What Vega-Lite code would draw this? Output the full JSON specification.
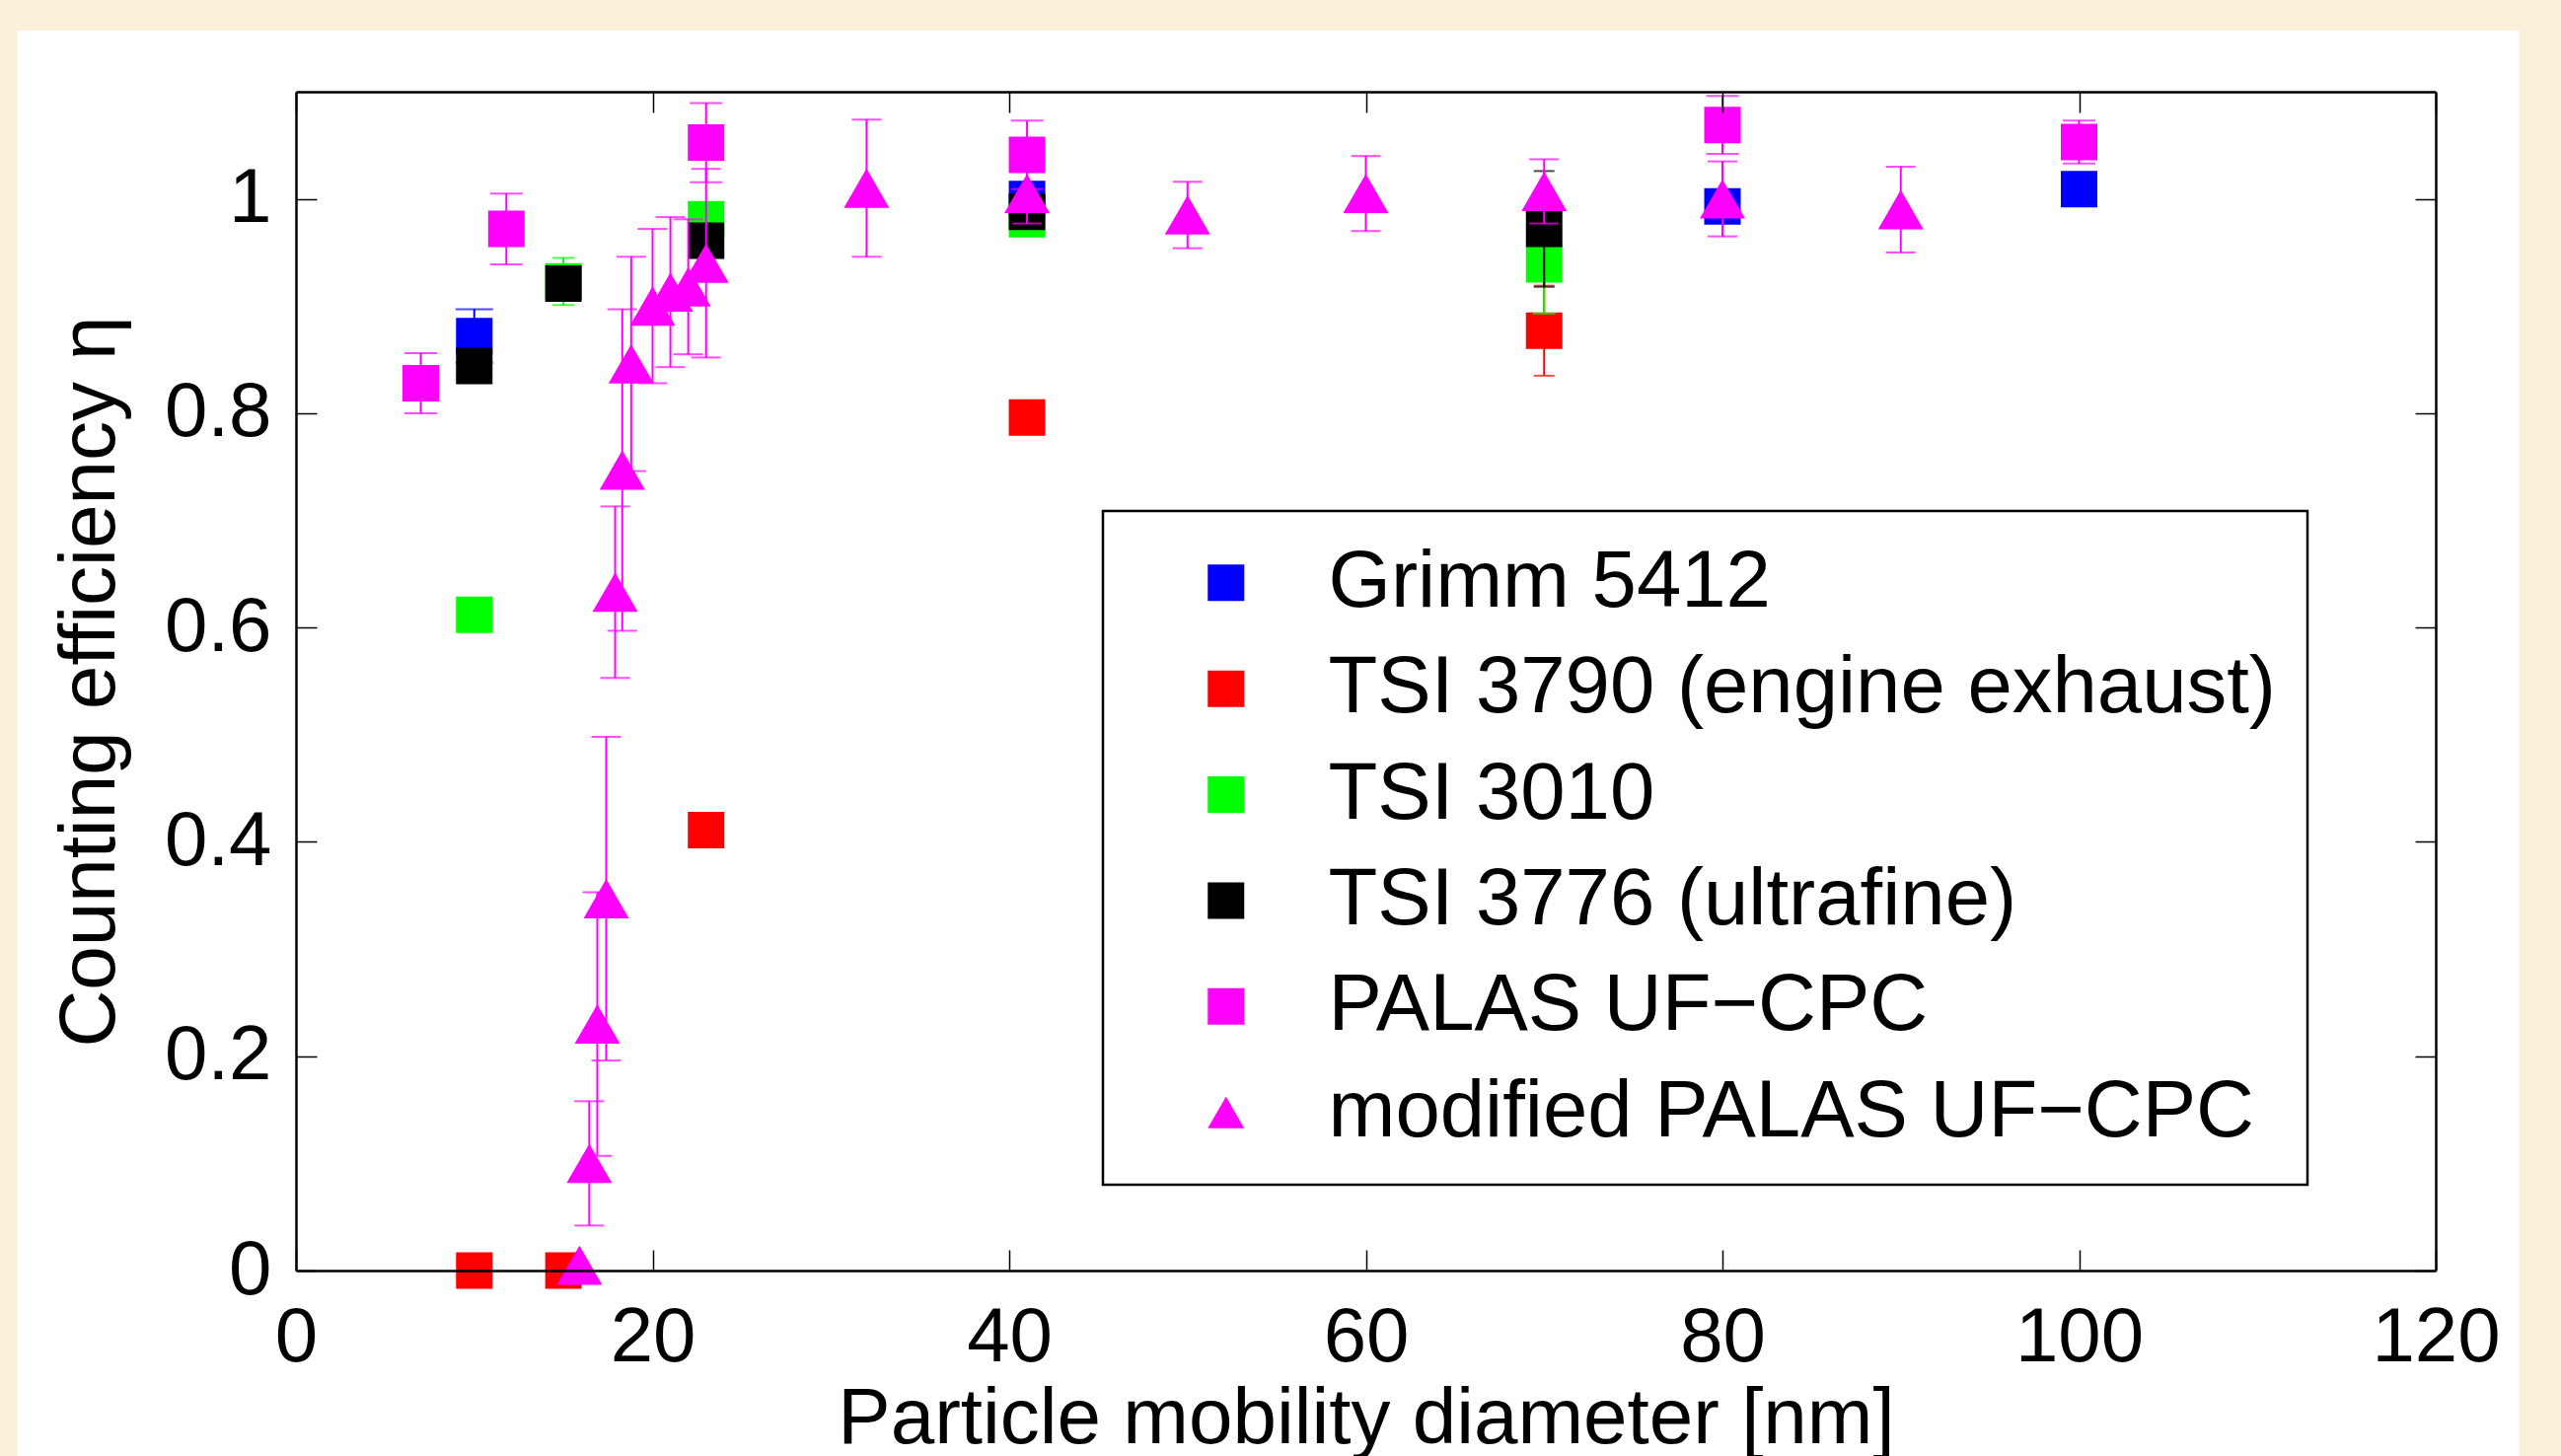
{
  "$schema": "https://vega.github.io/schema/vega-lite/v6.json",
  "width": 2169,
  "height": 1195,
  "autosize": {"type": "none"},
  "padding": {"left": 300, "top": 93, "right": 127, "bottom": 188},
  "background": "#FBF0DA",
  "datasets": {
    "pts": [
      {"s": "Grimm 5412", "d": 10, "eta": 0.872, "err": 0.025},
      {"s": "Grimm 5412", "d": 41, "eta": 1.0},
      {"s": "Grimm 5412", "d": 80, "eta": 0.993},
      {"s": "Grimm 5412", "d": 100, "eta": 1.009},
      {"s": "TSI 3790 (engine exhaust)", "d": 10, "eta": 0.0},
      {"s": "TSI 3790 (engine exhaust)", "d": 15, "eta": 0.0},
      {"s": "TSI 3790 (engine exhaust)", "d": 23, "eta": 0.411},
      {"s": "TSI 3790 (engine exhaust)", "d": 41, "eta": 0.796},
      {"s": "TSI 3790 (engine exhaust)", "d": 70, "eta": 0.877, "err": 0.042},
      {"s": "TSI 3010", "d": 10, "eta": 0.612},
      {"s": "TSI 3010", "d": 15, "eta": 0.923, "err": 0.022},
      {"s": "TSI 3010", "d": 23, "eta": 0.981},
      {"s": "TSI 3010", "d": 41, "eta": 0.981},
      {"s": "TSI 3010", "d": 70, "eta": 0.939, "err": 0.046},
      {"s": "TSI 3776 (ultrafine)", "d": 10, "eta": 0.844},
      {"s": "TSI 3776 (ultrafine)", "d": 15, "eta": 0.921},
      {"s": "TSI 3776 (ultrafine)", "d": 23, "eta": 0.961},
      {"s": "TSI 3776 (ultrafine)", "d": 41, "eta": 0.988},
      {"s": "TSI 3776 (ultrafine)", "d": 70, "eta": 0.972, "err": 0.054},
      {"s": "PALAS UF−CPC", "d": 7, "eta": 0.828, "err": 0.028},
      {"s": "PALAS UF−CPC", "d": 11.8, "eta": 0.972, "err": 0.033},
      {"s": "PALAS UF−CPC", "d": 23, "eta": 1.0525, "err": 0.037},
      {"s": "PALAS UF−CPC", "d": 41, "eta": 1.041, "err": 0.032},
      {"s": "PALAS UF−CPC", "d": 80, "eta": 1.069, "err": 0.027},
      {"s": "PALAS UF−CPC", "d": 100, "eta": 1.053, "err": 0.02},
      {"s": "modified PALAS UF−CPC", "d": 15.9, "eta": 0.005},
      {"s": "modified PALAS UF−CPC", "d": 16.45, "eta": 0.1, "err": 0.058},
      {"s": "modified PALAS UF−CPC", "d": 16.9, "eta": 0.23, "err": 0.123},
      {"s": "modified PALAS UF−CPC", "d": 17.4, "eta": 0.347, "err": 0.151},
      {"s": "modified PALAS UF−CPC", "d": 17.9, "eta": 0.633, "err": 0.08},
      {"s": "modified PALAS UF−CPC", "d": 18.3, "eta": 0.747, "err": 0.15},
      {"s": "modified PALAS UF−CPC", "d": 18.8, "eta": 0.846, "err": 0.1},
      {"s": "modified PALAS UF−CPC", "d": 20, "eta": 0.9, "err": 0.072},
      {"s": "modified PALAS UF−CPC", "d": 21, "eta": 0.913, "err": 0.07},
      {"s": "modified PALAS UF−CPC", "d": 22, "eta": 0.918, "err": 0.063},
      {"s": "modified PALAS UF−CPC", "d": 23, "eta": 0.94, "err": 0.088},
      {"s": "modified PALAS UF−CPC", "d": 32, "eta": 1.01, "err": 0.064},
      {"s": "modified PALAS UF−CPC", "d": 41, "eta": 1.005, "err": 0.028},
      {"s": "modified PALAS UF−CPC", "d": 50, "eta": 0.985, "err": 0.031},
      {"s": "modified PALAS UF−CPC", "d": 60, "eta": 1.005, "err": 0.035},
      {"s": "modified PALAS UF−CPC", "d": 70, "eta": 1.007, "err": 0.03},
      {"s": "modified PALAS UF−CPC", "d": 80, "eta": 1.0, "err": 0.035},
      {"s": "modified PALAS UF−CPC", "d": 90, "eta": 0.99, "err": 0.04}
    ]
  },
  "data": {"name": "pts"},
  "layer": [
    {
      "layer": [
        {
          "data": {"values": [{}]},
          "mark": {"type": "rect", "color": "white", "clip": false},
          "encoding": {
            "x": {"datum": -15.6, "type": "quantitative", "scale": {"domain": [0, 120], "nice": false, "zero": false},
                  "axis": {"orient": "top", "zindex": 1, "values": [0, 20, 40, 60, 80, 100, 120], "labels": false, "title": null}},
            "x2": {"datum": 124.7},
            "y": {"datum": 1.157, "type": "quantitative", "scale": {"domain": [0, 1.1], "nice": false},
                  "axis": {"orient": "right", "zindex": 1, "values": [0, 0.2, 0.4, 0.6, 0.8, 1], "labels": false, "title": null}},
            "y2": {"datum": -0.18}
          }
        }
      ]
    },
    {
      "encoding": {
        "x": {"field": "d", "type": "quantitative", "title": "Particle mobility diameter [nm]",
              "scale": {"domain": [0, 120], "nice": false, "zero": false},
              "axis": {"zindex": 1, "values": [0, 20, 40, 60, 80, 100, 120], "format": "d"}},
        "y": {"field": "eta", "type": "quantitative", "title": "Counting efficiency η",
              "scale": {"domain": [0, 1.1], "nice": false},
              "axis": {"zindex": 1, "values": [0, 0.2, 0.4, 0.6, 0.8, 1], "format": "~g"}}
      },
      "layer": [
        {"transform": [{"filter": "datum.s == 'Grimm 5412' && datum.err > 0"}],
         "mark": {"type": "errorbar", "ticks": {"size": 38}, "thickness": 2},
         "encoding": {"yError": {"field": "err"}, "color": {"value": "#0000FF"}}},
        {"transform": [{"filter": "datum.s == 'Grimm 5412'"}],
         "mark": {"type": "point", "filled": true, "opacity": 1, "size": 1369, "strokeWidth": 0},
         "encoding": {"color": {"field": "s", "type": "nominal", "scale": {"domain": ["Grimm 5412", "TSI 3790 (engine exhaust)", "TSI 3010", "TSI 3776 (ultrafine)", "PALAS UF−CPC", "modified PALAS UF−CPC"], "range": ["#0000FF", "#FF0000", "#00FF00", "#000000", "#FF00FF", "#FF00FF"]}, "legend": {"title": null, "orient": "none", "legendX": 818, "legendY": 425}},
                      "shape": {"field": "s", "type": "nominal", "scale": {"domain": ["Grimm 5412", "TSI 3790 (engine exhaust)", "TSI 3010", "TSI 3776 (ultrafine)", "PALAS UF−CPC", "modified PALAS UF−CPC"], "range": ["square", "square", "square", "square", "square", "triangle-up"]}, "legend": {"title": null, "orient": "none", "legendX": 818, "legendY": 425}}}},
        {"transform": [{"filter": "datum.s == 'TSI 3790 (engine exhaust)' && datum.err > 0"}],
         "mark": {"type": "errorbar", "ticks": {"size": 21}, "thickness": 2},
         "encoding": {"yError": {"field": "err"}, "color": {"value": "#FF0000"}}},
        {"transform": [{"filter": "datum.s == 'TSI 3790 (engine exhaust)'"}],
         "mark": {"type": "point", "filled": true, "opacity": 1, "size": 1369, "strokeWidth": 0},
         "encoding": {"color": {"field": "s", "type": "nominal"}, "shape": {"field": "s", "type": "nominal"}}},
        {"transform": [{"filter": "datum.s == 'TSI 3010' && datum.err > 0"}],
         "mark": {"type": "errorbar", "ticks": {"size": 23}, "thickness": 2},
         "encoding": {"yError": {"field": "err"}, "color": {"value": "#00FF00"}}},
        {"transform": [{"filter": "datum.s == 'TSI 3010'"}],
         "mark": {"type": "point", "filled": true, "opacity": 1, "size": 1369, "strokeWidth": 0},
         "encoding": {"color": {"field": "s", "type": "nominal"}, "shape": {"field": "s", "type": "nominal"}}},
        {"transform": [{"filter": "datum.s == 'TSI 3776 (ultrafine)' && datum.err > 0"}],
         "mark": {"type": "errorbar", "ticks": {"size": 21}, "thickness": 2},
         "encoding": {"yError": {"field": "err"}, "color": {"value": "#000000"}}},
        {"transform": [{"filter": "datum.s == 'TSI 3776 (ultrafine)'"}],
         "mark": {"type": "point", "filled": true, "opacity": 1, "size": 1369, "strokeWidth": 0},
         "encoding": {"color": {"field": "s", "type": "nominal"}, "shape": {"field": "s", "type": "nominal"}}},
        {"transform": [{"filter": "datum.s == 'PALAS UF−CPC' && datum.err > 0"}],
         "mark": {"type": "errorbar", "ticks": {"size": 33}, "thickness": 2},
         "encoding": {"yError": {"field": "err"}, "color": {"value": "#FF00FF"}}},
        {"transform": [{"filter": "datum.s == 'PALAS UF−CPC'"}],
         "mark": {"type": "point", "filled": true, "opacity": 1, "size": 1369, "strokeWidth": 0},
         "encoding": {"color": {"field": "s", "type": "nominal"}, "shape": {"field": "s", "type": "nominal"}}},
        {"transform": [{"filter": "datum.s == 'modified PALAS UF−CPC' && datum.err > 0"}],
         "mark": {"type": "errorbar", "ticks": {"size": 30}, "thickness": 2},
         "encoding": {"yError": {"field": "err"}, "color": {"value": "#FF00FF"}}},
        {"transform": [{"filter": "datum.s == 'modified PALAS UF−CPC'"}],
         "mark": {"type": "point", "filled": true, "opacity": 1, "size": 2116, "strokeWidth": 0},
         "encoding": {"color": {"field": "s", "type": "nominal"}, "shape": {"field": "s", "type": "nominal"}}},
        {"data": {"values": [{}]},
         "mark": {"type": "rule", "color": "#000000", "strokeWidth": 2},
         "encoding": {"x": {"datum": 0, "type": "quantitative", "title": "Particle mobility diameter [nm]"}, "x2": {"datum": 120},
                      "y": {"datum": 1, "type": "quantitative", "title": "Counting efficiency η"}}}
      ]
    }
  ],
  "resolve": {"axis": {"x": "independent", "y": "independent"}},
  "config": {
    "view": {"stroke": null},
    "axis": {
      "zindex": 1, "grid": false,
      "domainColor": "#000000", "domainWidth": 2.5,
      "tickColor": "#000000", "tickWidth": 1.5, "tickSize": -21,
      "labelFont": "Liberation Sans", "labelFontSize": 78, "labelColor": "#000000",
      "labelFlush": false, "labelOverlap": false, "labelBound": false,
      "titleFont": "Liberation Sans", "titleFontSize": 80, "titleFontWeight": "normal", "titleColor": "#000000"
    },
    "axisBottom": {"labelPadding": 50, "titlePadding": 4},
    "axisLeft": {"labelPadding": 46, "titlePadding": 34},
    "legend": {
      "labelFont": "Liberation Sans", "labelFontSize": 81.5, "labelColor": "#000000", "labelLimit": 0,
      "symbolSize": 1369, "symbolStrokeWidth": 0,
      "padding": 32, "rowPadding": 24.4, "symbolOffset": 52, "labelOffset": 63,
      "fillColor": "#FFFFFF", "strokeColor": "#000000", "strokeWidth": 2.5
    }
  }
}
